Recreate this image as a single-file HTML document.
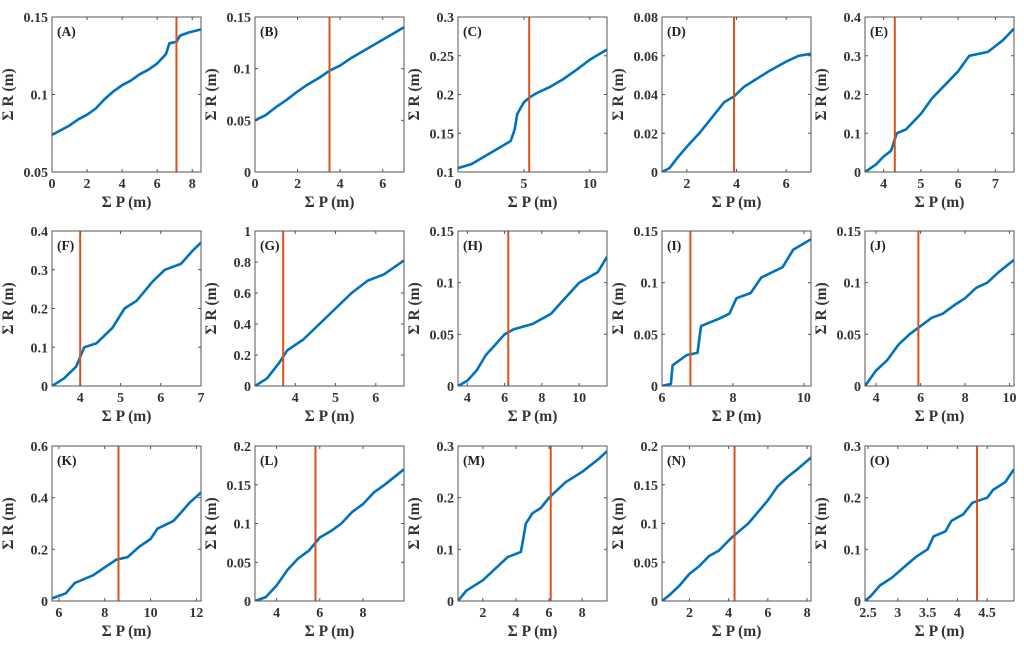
<!DOCTYPE html>
<html><head><meta charset="utf-8"><style>
html,body{margin:0;padding:0;background:#fff;}
svg{display:block;font-family:"Liberation Serif",serif;font-weight:bold;}
</style></head><body>
<svg id="chart" width="1024" height="652" viewBox="0 0 1024 652"></svg>
<script>
const panelLabels=["(A)","(B)","(C)","(D)","(E)","(F)","(G)","(H)","(I)","(J)","(K)","(L)","(M)","(N)","(O)"];
const xRanges=[[0,8.5],[0,7],[0,11.3],[1,7],[3.5,7.5],[3.3,7],[3,6.7],[3.5,11.5],[6,10.2],[3.5,10.2],[5.7,12.2],[3,9.9],[0.5,9.5],[0.6,8.2],[2.45,4.95]];
const yRanges=[[0.05,0.15],[0,0.15],[0.1,0.3],[0,0.08],[0,0.4],[0,0.4],[0,1],[0,0.15],[0,0.15],[0,0.15],[0,0.6],[0,0.2],[0,0.3],[0,0.2],[0,0.3]];
const xTicks=[[0,2,4,6,8],[0,2,4,6],[0,5,10],[2,4,6],[4,5,6,7],[4,5,6,7],[4,5,6],[4,6,8,10],[6,8,10],[4,6,8,10],[6,8,10,12],[4,6,8],[2,4,6,8],[2,4,6,8],[2.5,3,3.5,4,4.5]];
const yTicks=[[0.05,0.1,0.15],[0,0.05,0.1,0.15],[0.1,0.15,0.2,0.25,0.3],[0,0.02,0.04,0.06,0.08],[0,0.1,0.2,0.3,0.4],[0,0.1,0.2,0.3,0.4],[0,0.2,0.4,0.6,0.8,1],[0,0.05,0.1,0.15],[0,0.05,0.1,0.15],[0,0.05,0.1,0.15],[0,0.2,0.4,0.6],[0,0.05,0.1,0.15,0.2],[0,0.1,0.2,0.3],[0,0.05,0.1,0.15,0.2],[0,0.1,0.2,0.3]];
const vLines=[7.1,3.5,5.4,3.9,4.3,4.0,3.7,6.2,6.8,5.9,8.6,5.8,6.1,4.3,4.33];
const seriesX=[
[0,0.5,1,1.5,2,2.5,3,3.5,4,4.5,5,5.5,6,6.5,6.7,7.1,7.3,7.8,8.5],
[0,0.5,1,1.5,2,2.5,3,3.5,4,4.5,5,5.5,6,6.5,7],
[0,1,2,3,4,4.3,4.5,5,5.5,6,7,8,9,10,11.3],
[1,1.3,1.6,2,2.5,3,3.5,3.9,4.3,4.8,5.3,6,6.5,7],
[3.5,3.8,4,4.2,4.35,4.6,5,5.3,5.6,6,6.3,6.8,7.2,7.5],
[3.3,3.6,3.9,4.1,4.4,4.8,5.1,5.4,5.8,6.1,6.5,6.8,7],
[3,3.3,3.6,3.8,4.2,4.6,5,5.4,5.8,6.2,6.7],
[3.5,4,4.5,5,5.5,6,6.5,7.5,8.5,9,9.5,10,11,11.5],
[6,6.25,6.3,6.7,7,7.1,7.6,7.9,8.1,8.5,8.8,9.4,9.7,10.2],
[3.5,4,4.5,5,5.5,6,6.5,7,7.5,8,8.5,9,9.5,10.2],
[5.7,6.3,6.7,7.5,8,8.5,9,9.5,10,10.3,11,11.3,11.7,12.2],
[3,3.5,4,4.5,5,5.5,6,6.5,7,7.5,8,8.5,9,9.9],
[0.5,1,2,3,3.5,4.3,4.6,5,5.5,6,7,8,9,9.5],
[0.6,1,1.5,2,2.5,3,3.5,4,4.3,5,5.5,6,6.5,7,7.5,8.2],
[2.45,2.55,2.7,2.9,3.1,3.3,3.5,3.6,3.8,3.9,4.1,4.25,4.5,4.6,4.8,4.95]];
const seriesY=[
[0.074,0.077,0.080,0.084,0.087,0.091,0.097,0.102,0.106,0.109,0.113,0.116,0.120,0.126,0.133,0.134,0.138,0.140,0.142],
[0.05,0.055,0.063,0.070,0.078,0.085,0.091,0.098,0.103,0.110,0.116,0.122,0.128,0.134,0.140],
[0.105,0.11,0.12,0.13,0.14,0.155,0.175,0.19,0.197,0.202,0.21,0.22,0.232,0.245,0.258],
[0,0.002,0.007,0.013,0.02,0.028,0.036,0.039,0.044,0.048,0.052,0.057,0.060,0.061],
[0,0.02,0.04,0.055,0.1,0.11,0.15,0.19,0.22,0.26,0.3,0.31,0.34,0.37],
[0,0.02,0.05,0.1,0.11,0.15,0.2,0.22,0.27,0.3,0.315,0.35,0.37],
[0,0.05,0.15,0.23,0.3,0.4,0.5,0.6,0.68,0.72,0.81],
[0,0.005,0.015,0.03,0.04,0.05,0.055,0.06,0.07,0.08,0.09,0.1,0.11,0.125],
[0,0.002,0.02,0.03,0.032,0.058,0.065,0.07,0.085,0.09,0.105,0.115,0.132,0.142],
[0,0.015,0.025,0.04,0.05,0.058,0.066,0.07,0.078,0.085,0.095,0.1,0.11,0.122],
[0.01,0.03,0.07,0.1,0.13,0.16,0.17,0.21,0.24,0.28,0.31,0.34,0.38,0.42],
[0,0.005,0.02,0.04,0.055,0.065,0.082,0.09,0.1,0.115,0.125,0.14,0.15,0.17],
[0,0.02,0.04,0.07,0.085,0.095,0.15,0.17,0.18,0.2,0.23,0.25,0.275,0.29],
[0,0.008,0.02,0.035,0.045,0.058,0.065,0.078,0.085,0.1,0.115,0.13,0.148,0.16,0.17,0.185],
[0,0.01,0.03,0.045,0.065,0.085,0.1,0.125,0.135,0.155,0.168,0.19,0.2,0.215,0.23,0.255]];

const NS="http://www.w3.org/2000/svg";
const svg=document.getElementById('chart');
const colLeft=[52,255,458,662,865], rowTop=[17,231,446], W=149, H=155;
function mk(tag,attrs,parent){const e=document.createElementNS(NS,tag);for(const k in attrs)e.setAttribute(k,attrs[k]);parent.appendChild(e);return e;}
function fmt(v){return String(+v.toFixed(3));}
for(let i=0;i<15;i++){
  const L=colLeft[i%5], T=rowTop[Math.floor(i/5)];
  const [x0,x1]=xRanges[i],[y0,y1]=yRanges[i];
  const sx=v=>L+(v-x0)/(x1-x0)*W, sy=v=>T+H-(v-y0)/(y1-y0)*H;
  const g=mk('g',{},svg);
  
  
  const cid='c'+i;
  const cp=mk('clipPath',{id:cid},g); mk('rect',{x:L,y:T,width:W,height:H},cp);
  const pts=seriesX[i].map((x,k)=>sx(x).toFixed(1)+','+sy(seriesY[i][k]).toFixed(1)).join(' ');
  const pl=mk('polyline',{points:pts,fill:'none',stroke:'#0072BD','stroke-width':2.6,'stroke-linejoin':'round','clip-path':'url(#'+cid+')'},g);
  
  
  const vl=mk('line',{x1:sx(vLines[i]),x2:sx(vLines[i]),y1:T,y2:T+H,stroke:'#D95319','stroke-width':2},g);
  
  
  const bx=mk('rect',{x:L,y:T,width:W,height:H,fill:'none',stroke:'#555','stroke-width':1},g);
  
  
  xTicks[i].forEach(t=>{const x=sx(t);
    mk('line',{x1:x,x2:x,y1:T+H,y2:T+H-3,stroke:'#555'},g);
    mk('line',{x1:x,x2:x,y1:T,y2:T+3,stroke:'#555'},g);
    const tx=mk('text',{x:x,y:T+H+16,'text-anchor':'middle','font-size':14,fill:'#333'},g);
    tx.textContent=fmt(t);
    
    
  });
  yTicks[i].forEach(t=>{const y=sy(t);
    mk('line',{x1:L,x2:L+3,y1:y,y2:y,stroke:'#555'},g);
    mk('line',{x1:L+W,x2:L+W-3,y1:y,y2:y,stroke:'#555'},g);
    const ty=mk('text',{x:L-4,y:y+5,'text-anchor':'end','font-size':14,fill:'#333'},g);
    ty.textContent=fmt(t);
    
    
  });
  const xt=mk('text',{x:L+W/2,y:T+H+35,'text-anchor':'middle','font-size':15.5,fill:'#333'},g);
  xt.textContent='Σ P (m)';
  
  
  const yx=L-39, yy=T+H/2;
  const yt=mk('text',{x:yx,y:yy,'text-anchor':'middle','font-size':15.5,fill:'#333',transform:'rotate(-90 '+yx+' '+yy+')'},g);
  yt.textContent='Σ R (m)';
  
  
  const pt=mk('text',{x:L+5,y:T+19,'font-size':13.5,fill:'#222'},g);
  pt.textContent=panelLabels[i];
  
  
}
</script>
</body></html>
